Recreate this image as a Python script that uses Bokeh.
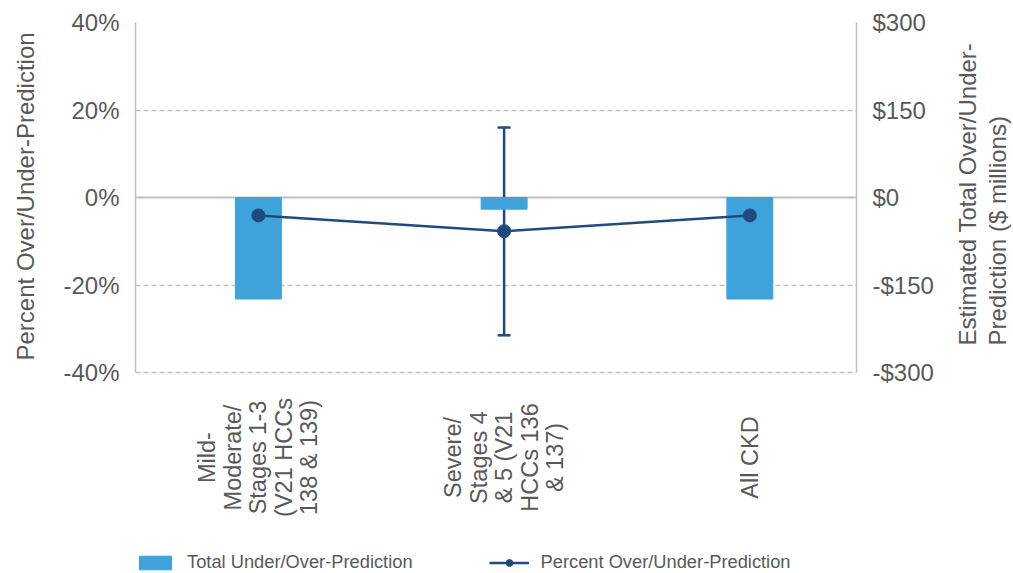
import math
from bokeh.plotting import figure
from bokeh.layouts import row
from bokeh.core.properties import value
from bokeh.models import (Range1d, LinearAxis, FixedTicker, ColumnDataSource, Whisker,
                          TeeHead, Legend, LegendItem, Span, Title)
from bokeh.embed import file_html
from bokeh.resources import INLINE

categories = ["Mild-\nModerate/\nStages 1-3\n(V21 HCCs\n138 & 139)",
              "Severe/\nStages 4\n& 5 (V21\nHCCs 136\n& 137)",
              "All CKD"]
cat_pos = [0, 1, 2]
total_usd = [-174, -20, -174]          # $ millions
pct = [-4.1, -7.7, -4.1]               # percent
pct_low = [-7.5, -31.5, -7.5]
pct_high = [-0.7, 16.0, -0.7]
left_ticks = [-40, -20, 0, 20, 40]
left_tick_labels = ["-40%", "-20%", "0%", "20%", "40%"]
right_ticks = [-300, -150, 0, 150, 300]
right_tick_labels = ["-$300", "-$150", "$0", "$150", "$300"]
left_title = "Percent Over/Under-Prediction"
right_title = "Estimated Total Over/Under-\nPrediction ($ millions)"
legend_labels = ["Total Under/Over-Prediction", "Percent Over/Under-Prediction"]

FONT = "Liberation Sans"
TXT = "#595959"
GRID = "#bfbfbf"
BAR = "#3ea3db"
LINE = "#1f4a7e"

# geometry: plot area 40%..-40% spans 350 px; frame extended 201 px below for labels/legend
PX_PER_PCT = 350 / 80
EXTRA = 201
y_lo = -40 - EXTRA / PX_PER_PCT
usd_lo = -300 - EXTRA * 600 / 350
LABEL_Y = -40 - (457 - 372) / PX_PER_PCT


def title_strip(width, text, offset, size, line_height=1.2):
    """Slim companion figure whose left-side Title reads bottom-to-top."""
    f = figure(width=width, height=573, output_backend="svg", toolbar_location=None,
               x_range=Range1d(0, 1), y_range=Range1d(0, 1),
               min_border_left=width - 2, min_border_right=0, min_border_top=22,
               min_border_bottom=0)
    f.outline_line_color = None
    f.axis.visible = False
    f.grid.visible = False
    f.add_layout(Title(text=text, align="left", offset=offset, standoff=0,
                       text_font=FONT, text_font_size=size, text_font_style="normal",
                       text_color=TXT, text_line_height=line_height), "left")
    return f


p0 = title_strip(40, left_title, 213, "24px")

p = figure(width=911, height=573, x_range=Range1d(-0.50, 2.434), y_range=Range1d(y_lo, 40),
           output_backend="svg", toolbar_location=None,
           min_border_left=95, min_border_right=95, min_border_top=22, min_border_bottom=0)
p.outline_line_color = None
p.extra_y_ranges = {"usd": Range1d(usd_lo, 300)}
p.xaxis.visible = False

# left axis
ya = p.yaxis[0]
ya.bounds = (-40, 40)
ya.ticker = FixedTicker(ticks=left_ticks)
ya.major_label_overrides = {t: l for t, l in zip(left_ticks, left_tick_labels)}
ya.axis_line_color = GRID
ya.axis_line_width = 1.5
ya.major_tick_line_color = None
ya.minor_tick_line_color = None
ya.major_label_standoff = 10
ya.major_label_text_font = FONT
ya.major_label_text_font_size = "24px"
ya.major_label_text_color = TXT

# right axis (ticks)
ra = LinearAxis(y_range_name="usd", ticker=FixedTicker(ticks=right_ticks), bounds=(-300, 300))
ra.major_label_overrides = {t: l for t, l in zip(right_ticks, right_tick_labels)}
ra.axis_line_color = GRID
ra.axis_line_width = 1.5
ra.major_tick_line_color = None
ra.minor_tick_line_color = None
ra.major_label_standoff = 10
ra.major_label_text_font = FONT
ra.major_label_text_font_size = "24px"
ra.major_label_text_color = TXT
p.add_layout(ra, "right")

# grid
p.xgrid.grid_line_color = None
p.ygrid.ticker = FixedTicker(ticks=[-40, -20, 20, 40])
p.ygrid.grid_line_color = GRID
p.ygrid.grid_line_dash = "5 3"
p.ygrid.grid_line_width = 1.5
p.add_layout(Span(location=0, dimension="width", line_color=GRID, line_width=2, level="underlay"))

bars = p.vbar(x=cat_pos, top=total_usd, bottom=0, width=0.187, color=BAR, y_range_name="usd")

src = ColumnDataSource(dict(x=cat_pos, y=pct, lower=pct_low, upper=pct_high))
p.add_layout(Whisker(source=src, base="x", lower="lower", upper="upper",
                     line_color=LINE, line_width=2.5,
                     upper_head=TeeHead(size=13, line_color=LINE, line_width=2.5),
                     lower_head=TeeHead(size=13, line_color=LINE, line_width=2.5)))
ln = p.line("x", "y", source=src, line_color=LINE, line_width=2.5)
pts = p.scatter("x", "y", source=src, size=13, color=LINE)

# category labels (rotated, centred lines)
p.text(x=cat_pos, y=[LABEL_Y] * len(cat_pos), text=categories, angle=math.pi / 2,
       text_align="center", text_baseline="middle", text_font=value(FONT),
       text_font_size="23.5px", text_line_height=0.98, text_color=TXT)

legend = Legend(items=[LegendItem(label=legend_labels[0], renderers=[bars]),
                       LegendItem(label=legend_labels[1], renderers=[ln, pts])],
                orientation="horizontal", location=(0, 0), border_line_color=None,
                background_fill_alpha=0, glyph_width=40, glyph_height=17, padding=0, margin=0,
                spacing=76, label_standoff=12, label_text_font=FONT,
                label_text_font_size="18.3px", label_text_color=TXT)
p.add_layout(legend)

p2 = title_strip(62, right_title, 228, "24px", 1.12)

open("out.html", "w").write(file_html(row(p0, p, p2), INLINE))
